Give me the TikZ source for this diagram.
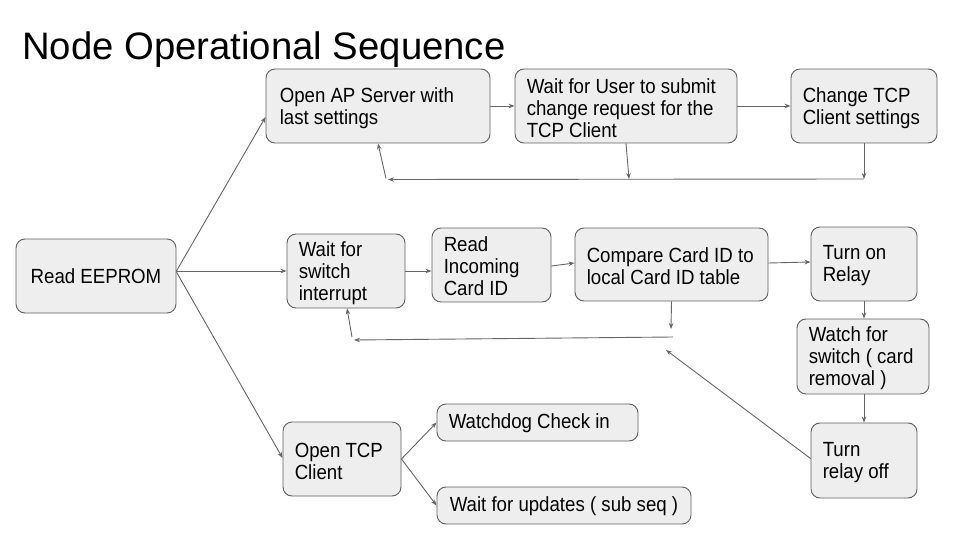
\documentclass[tikz,border=0pt]{standalone}
\usepackage{fontspec}
\setmainfont{Liberation Sans}
\newfontfamily\narrowsans[FakeStretch=0.91]{Liberation Sans}
\usetikzlibrary{arrows.meta,calc}
\definecolor{boxfill}{HTML}{EEEEEE}
\definecolor{boxline}{HTML}{5F5F5F}
\definecolor{arrline}{HTML}{666666}
\begin{document}
\begin{tikzpicture}[x=1pt,y=-1pt,
  box/.style={draw=boxline, fill=boxfill, rounded corners=9pt, line width=0.9pt,
    inner sep=0pt, font=\narrowsans\fontsize{20.5}{22}\selectfont, text=black},
  txt/.style={anchor=west, align=left, inner sep=0pt,
    font=\narrowsans\fontsize{20.5}{22}\selectfont, text=black},
  arr/.style={draw=arrline, line width=0.9pt, -{Stealth[length=6pt,width=4.5pt]}},
  titlestyle/.style={anchor=base west, inner sep=0pt, font=\fontsize{38.3}{44}\selectfont, text=black}]
\useasboundingbox (0,0) rectangle (960,540);

\node[titlestyle] (title) at (22,60) {Node Operational Sequence};

% boxes
\node[box, minimum width=160pt, minimum height=74pt] (ee) at (96,276) {Read EEPROM};
\node[box, minimum width=224pt, minimum height=74pt] (ap) at (378,106) {};
\node[box, minimum width=222pt, minimum height=74pt] (wu) at (626,106) {};
\node[box, minimum width=146pt, minimum height=74pt] (ct) at (864,106) {};
\node[box, minimum width=118pt, minimum height=74pt] (ws) at (346,271) {};
\node[box, minimum width=119pt, minimum height=74pt] (ri) at (491.5,265) {};
\node[box, minimum width=193pt, minimum height=73pt] (cc) at (671.5,264.5) {};
\node[box, minimum width=106pt, minimum height=74pt] (to) at (864,264) {};
\node[box, minimum width=132pt, minimum height=75pt] (wf) at (863,356.5) {};
\node[box, minimum width=106pt, minimum height=75pt] (tf) at (864,460.5) {};
\node[box, minimum width=118pt, minimum height=74pt] (otc) at (342,459) {};
\node[box, minimum width=201pt, minimum height=37pt] (wd) at (537.5,422.5) {};
\node[box, minimum width=254pt, minimum height=37pt] (wup) at (564,505.5) {};

% texts
\node[txt] (apt) at ($(ap.west)+(14,2)$) {Open AP Server with\\last settings};
\node[txt] (wut) at ($(wu.west)+(12,2)$) {Wait for User to submit\\change request for the\\TCP Client};
\node[txt] (ctt) at ($(ct.west)+(12,2)$) {Change TCP\\Client settings};
\node[txt] (wst) at ($(ws.west)+(12,2)$) {Wait for\\switch\\interrupt};
\node[txt] (rit) at ($(ri.west)+(12,1)$) {Read\\Incoming\\Card ID};
\node[txt] (cct) at ($(cc.west)+(12,2)$) {Compare Card ID to\\local Card ID table};
\node[txt] (tot) at ($(to.west)+(12,2)$) {Turn on\\Relay};
\node[txt] (wft) at ($(wf.west)+(12,2)$) {Watch for\\switch ( card\\removal )};
\node[txt] (tft) at ($(tf.west)+(12,2)$) {Turn\\relay off};
\node[txt] (otct) at ($(otc.west)+(12,2)$) {Open TCP\\Client};
\node[txt] (wdt) at ($(wd.west)+(12,1)$) {Watchdog Check in};
\node[txt] (wupt) at ($(wup.west)+(13,1)$) {Wait for updates ( sub seq )};

% from Read EEPROM
\draw[arr] ($(ee.east)+(0,-5)$) -- ($(ap.west)+(0,11)$);
\draw[arr] ($(ee.east)+(0,-5)$) -- (ws.west);
\draw[arr] ($(ee.east)+(0,-4)$) -- ($(otc.west)+(0,-1)$);

% top row
\draw[arr] (ap.east) -- (wu.west);
\draw[arr] (wu.east) -- (ct.west);
\coordinate (j1) at (388,179.5);
\coordinate (j2) at (629,179);
\coordinate (j3) at (864,179);
\draw[arr] (wu.south) -- (j2);
\draw[arr] (ct.south) -- (j3);
\draw[arr] (j3) -- (j1);
\draw[arr] ($(j1)+(-2,-1)$) -- (ap.south);

% middle row
\draw[arr] (ws.east) -- (ws.east -| ri.west);
\draw[arr] ($(ri.east)+(0,1)$) -- ($(cc.west)+(0,-1.5)$);
\draw[arr] ($(cc.east)+(0,-1.5)$) -- ($(to.west)+(0,-2)$);
\draw[arr] (to.south) -- (to.south |- wf.north);
\draw[arr] (wf.south -| tf.north) -- (tf.north);
\coordinate (k1) at (671,329);
\coordinate (k2) at (673,337);
\coordinate (k3) at (354,340);
\coordinate (k4) at (666,350);
\draw[arr] (cc.south) -- (k1);
\draw[arr] (k2) -- (k3);
\draw[arr] ($(k3)+(-2,-3)$) -- ($(ws.south)+(1,0)$);
\draw[arr] ($(tf.west)+(0,-2)$) -- (k4);

% bottom
\draw[arr] (otc.east) -- (wd.west);
\draw[arr] (otc.east) -- (wup.west);
\end{tikzpicture}
\end{document}
